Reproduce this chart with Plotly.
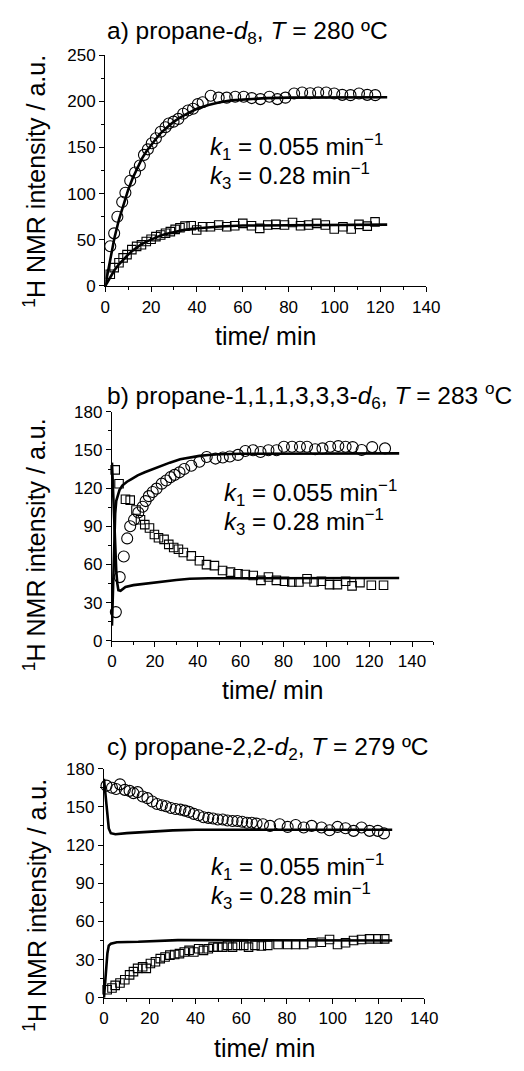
import plotly.graph_objects as go

# ---------------- data ----------------
# Panel a) propane-d8
a_circ_t = [2.2, 3.9, 5.3, 7.4, 8.8, 10.9, 13.0, 15.1, 16.9, 18.6, 20.3, 22.1, 24.2, 26.3, 27.7, 29.8,
            31.9, 34.0, 36.1, 38.3, 40.4, 42.5, 46.0, 49.5, 53.0, 56.7, 60.4, 63.9, 67.7, 71.6, 75.1,
            78.6, 82.4, 85.9, 89.4, 92.9, 96.4, 99.9, 103.4, 107.0, 110.7, 114.3, 117.8]
a_circ_v = [43, 57, 75, 91, 101, 114, 123, 130.5, 142, 148, 154.6, 160, 167, 172, 176, 178,
            181, 186.5, 190, 192, 197, 199, 206, 204, 204, 205, 205, 203.5, 202.4, 205, 202.4,
            204, 208.5, 209.6, 208.8, 209.6, 209.6, 208.5, 207, 206.7, 208.5, 207, 206.7]
a_sq_t = [2.2, 3.9, 6.0, 7.8, 9.5, 11.6, 13.7, 15.8, 17.9, 20.0, 22.1, 24.2, 26.3, 28.4, 30.5, 32.6,
          34.8, 37.5, 39.9, 42.5, 45.9, 49.5, 53.0, 56.5, 60.0, 63.8, 67.4, 70.9, 74.4, 78.2, 81.7,
          85.2, 88.7, 92.2, 96.0, 99.9, 103.7, 107.3, 110.7, 114.3, 117.7]
a_sq_v = [12.8, 19.9, 25.2, 30.5, 34, 39.4, 42.9, 44.7, 48.2, 50.7, 53.5, 55.3, 57.1, 58.9, 61.3, 63.1,
          64.9, 65.2, 60.6, 64.2, 64.2, 66, 64.2, 65.2, 67.8, 65.2, 62.4, 66, 66.7, 66, 68.8,
          65.2, 66, 67.8, 66, 61.7, 64.2, 61.7, 66.7, 64.9, 69.5]
a_fit1_t = [0, 2, 4, 6, 8, 10, 12, 14, 16, 18, 20, 22, 24, 26, 28, 30, 33, 36, 40, 45, 50, 55, 60, 70, 80, 100, 123]
a_fit1_v = [0, 28, 52, 72, 89, 104, 117, 128, 138, 146, 153, 159, 165, 170, 174, 178, 183, 187, 192, 196,
            199, 201, 202, 203.5, 204, 204.5, 204.5]
a_fit2_t = [0, 2, 4, 6, 8, 10, 12, 14, 16, 18, 20, 23, 26, 30, 34, 38, 42, 46, 50, 60, 80, 100, 123]
a_fit2_v = [0, 9, 17, 23.5, 29, 34, 38.5, 42, 45.5, 48, 50.5, 53.5, 56, 58.5, 60.5, 62, 63, 64, 64.5,
            65.5, 66, 66.5, 66.5]

# Panel b) propane-1,1,1,3,3,3-d6
b_circ_t = [1.8, 3.6, 5.5, 7.1, 8.5, 10.3, 12.3, 14.3, 15.7, 17.2, 19.0, 20.8, 23.2, 25.3, 27.3, 29.2,
            31.5, 33.7, 37.0, 40.8, 44.2, 48.3, 51.7, 55.0, 58.8, 62.2, 65.8, 69.3, 73.0, 76.8, 80.2,
            84.0, 87.7, 91.0, 94.8, 98.2, 101.8, 105.6, 109.0, 112.3, 116.5, 121.4, 127.4]
b_circ_v = [22.6, 50.1, 66.3, 80.5, 90.0, 95.1, 100.8, 105.4, 109.8, 113.7, 117.0, 119.6, 123.5, 126.0,
            128.6, 130.4, 132.4, 135.0, 137.6, 140.7, 144.5, 143.2, 144.0, 144.8, 146.1, 149.2, 149.7,
            148.4, 149.7, 149.7, 152.5, 152.5, 152.5, 152.5, 150.5, 151.2, 152.5, 153.0, 152.5, 152.2,
            149.9, 152.2, 151.2]
b_sq_t = [1.5, 3.3, 6.3, 8.5, 11.2, 13.3, 15.3, 17.5, 19.8, 21.7, 24.3, 26.5, 28.8, 31.0, 33.3, 37.0,
          40.8, 44.1, 47.8, 51.6, 55.3, 58.8, 62.2, 65.9, 69.5, 73.0, 76.7, 80.5, 83.9, 87.2, 91.0,
          94.3, 97.7, 101.5, 105.2, 109.0, 112.0, 115.7, 121.0, 126.7]
b_sq_v = [134.3, 123.4, 111.3, 110.6, 102.8, 95.1, 91.3, 88.7, 83.6, 81.0, 79.7, 75.8, 73.3, 72.0, 69.4,
          66.8, 63.0, 59.9, 59.1, 55.3, 54.0, 52.7, 52.2, 51.4, 47.5, 50.2, 47.5, 46.8, 46.3, 46.3,
          48.8, 46.3, 46.8, 44.2, 44.2, 46.8, 43.2, 45.8, 43.7, 43.7]
b_fit1_t = [0, 0.5, 1, 1.5, 2, 2.6, 3.5, 4.8, 7, 9.3, 12, 15.3, 19, 22.8, 27, 31.8, 36, 40.8, 45, 50, 60, 134]
b_fit1_v = [12, 45, 80, 100, 110, 114.4, 118.5, 122, 125, 127.3, 130, 132.4, 135, 137.6, 140, 142.7,
            144, 145.3, 146, 146.6, 147, 147.3]
b_fit2_t = [0, 0.5, 1, 1.5, 2, 2.5, 3, 4, 6.3, 10, 15.3, 20, 24.3, 30, 36.3, 45, 134]
b_fit2_v = [140, 115, 90, 70, 55, 45, 39.8, 39.3, 42.4, 43.8, 45, 46, 46.8, 47.8, 48.8, 49.2, 49.4]

# Panel c) propane-2,2-d2
c_circ_t = [1.1, 3.5, 5.3, 7.0, 9.1, 11.2, 12.9, 14.7, 16.9, 19.0, 21.1, 23.2, 25.3, 27.1, 29.2, 31.3,
            33.4, 35.4, 37.2, 39.3, 41.4, 43.5, 45.6, 47.7, 49.8, 51.9, 54.0, 56.2, 58.3, 60.4, 62.5,
            64.6, 66.7, 69.5, 72.6, 76.8, 80.3, 83.8, 87.3, 90.8, 95.1, 98.6, 102.1, 105.6, 109.1,
            112.6, 116.1, 119.7, 122.4]
c_circ_v = [166.6, 165.0, 164.0, 167.6, 163.3, 162.5, 160.7, 161.5, 158.1, 156.8, 154.2, 152.2, 151.2,
            150.4, 149.1, 148.3, 147.8, 147.0, 146.0, 144.4, 143.3, 141.8, 141.3, 140.8, 140.0, 140.0,
            139.2, 138.8, 138.8, 138.3, 137.5, 137.5, 136.8, 136.3, 135.0, 136.3, 134.2, 135.7, 133.7,
            135.0, 133.7, 131.6, 134.2, 133.2, 131.1, 133.7, 131.1, 131.1, 129.1]
c_sq_t = [1.4, 3.5, 4.9, 7.0, 9.1, 11.2, 12.9, 14.7, 16.9, 18.5, 20.3, 22.5, 24.6, 26.7, 28.8, 30.9,
          33.0, 35.1, 37.2, 39.3, 41.4, 43.5, 45.6, 47.7, 49.8, 51.9, 54.0, 56.2, 58.3, 61.1, 63.2,
          66.0, 68.8, 71.6, 76.1, 80.3, 83.8, 87.3, 90.8, 95.0, 98.6, 102.1, 105.6, 109.1, 112.6,
          116.1, 119.7, 122.7]
c_sq_v = [6.4, 7.7, 9.8, 11.6, 14.2, 18.0, 20.6, 23.1, 24.4, 23.1, 27.0, 28.3, 30.8, 32.1, 33.5, 34.0,
          34.7, 36.0, 37.3, 36.0, 38.6, 37.3, 38.6, 39.8, 39.8, 39.8, 41.2, 39.8, 41.2, 41.2, 39.8,
          41.2, 40.7, 41.2, 41.9, 41.9, 41.9, 41.9, 43.2, 43.7, 45.8, 41.9, 43.2, 45.0, 45.8, 46.3,
          46.3, 46.3]
c_fit1_t = [0, 0.7, 1.4, 2.1, 3, 5, 10, 20, 30, 40, 126]
c_fit1_v = [172, 160, 145, 133, 129.3, 128.5, 129.3, 130.5, 131.5, 132, 132]
c_fit2_t = [0, 0.5, 1, 1.5, 2.1, 3, 5.6, 15, 32.3, 126]
c_fit2_v = [0, 12, 25, 35, 41, 42.5, 43.7, 44, 45.3, 45]

titles = ["a) propane-<i>d</i><sub>8</sub>, <i>T</i> = 280 \u00baC",
          "b) propane-1,1,1,3,3,3-<i>d</i><sub>6</sub>, <i>T</i> = 283 <sup>o</sup>C",
          "c) propane-2,2-<i>d</i><sub>2</sub>, <i>T</i> = 279 \u00baC"]
k1_text = "<i>k</i><sub>1</sub> = 0.055 min<sup>\u22121</sup>"
k3_text = "<i>k</i><sub>3</sub> = 0.28 min<sup>\u22121</sup>"
x_title = "time/ min"
y_title = "<sup>1</sup>H NMR intensity / a.u."

# ---------------- figure ----------------
W, H = 524, 1071
FONT = "Liberation Sans, Arial, sans-serif"

def px(x):
    return x / W

def py(y):
    return 1 - y / H

panels = [
    dict(t=(a_circ_t, a_circ_v, a_sq_t, a_sq_v, a_fit1_t, a_fit1_v, a_fit2_t, a_fit2_v),
         xd=(104, 437), yd=(47, 282), xr=[0, 140], yr=[0, 250], ydt=50,
         title_y=24, k_x=211, k_y=(140, 170), xt_y=333, yt_y=175),
    dict(t=(b_circ_t, b_circ_v, b_sq_t, b_sq_v, b_fit1_t, b_fit1_v, b_fit2_t, b_fit2_v),
         xd=(111, 444.6), yd=(410, 643.3), xr=[0, 150], yr=[0, 180], ydt=30,
         title_y=393, k_x=225, k_y=(493, 522), xt_y=693, yt_y=545),
    dict(t=(c_circ_t, c_circ_v, c_sq_t, c_sq_v, c_fit1_t, c_fit1_v, c_fit2_t, c_fit2_v),
         xd=(102.7, 435), yd=(773.3, 1006.7), xr=[0, 140], yr=[0, 180], ydt=30,
         title_y=753, k_x=212, k_y=(873, 903), xt_y=1058, yt_y=912),
]

fig = go.Figure()
annotations = []
layout = dict(width=W, height=H, margin=dict(l=0, r=0, t=0, b=0),
              paper_bgcolor="white", plot_bgcolor="white", showlegend=False,
              font=dict(family=FONT, color="black", size=17))

for i, p in enumerate(panels, start=1):
    xa = "x" if i == 1 else f"x{i}"
    ya = "y" if i == 1 else f"y{i}"
    ct, cv, st, sv, f1t, f1v, f2t, f2v = p["t"]
    for ft, fv in ((f1t, f1v), (f2t, f2v)):
        fig.add_trace(go.Scatter(x=ft, y=fv, mode="lines", xaxis=xa, yaxis=ya,
                                 line=dict(color="black", width=2.6), cliponaxis=False))
    fig.add_trace(go.Scatter(x=ct, y=cv, mode="markers", xaxis=xa, yaxis=ya, cliponaxis=False,
                             marker=dict(symbol="circle-open", size=11, color="black",
                                         line=dict(width=1.1, color="black"))))
    fig.add_trace(go.Scatter(x=st, y=sv, mode="markers", xaxis=xa, yaxis=ya, cliponaxis=False,
                             marker=dict(symbol="square-open", size=8.5, color="black",
                                         line=dict(width=1.1, color="black"))))
    axis_common = dict(showline=True, linecolor="black", linewidth=1.3, showgrid=False,
                       zeroline=False, ticks="outside", ticklen=5, tickwidth=1.2,
                       tickcolor="black", tickfont=dict(size=17, family=FONT))
    xkey = "xaxis" if i == 1 else f"xaxis{i}"
    ykey = "yaxis" if i == 1 else f"yaxis{i}"
    layout[xkey] = dict(axis_common, domain=[px(p["xd"][0]), px(p["xd"][1])], range=p["xr"],
                        dtick=20, tick0=0, anchor=ya,
                        minor=dict(dtick=10, ticks="outside", ticklen=3, tickcolor="black",
                                   tickwidth=1.2))
    layout[ykey] = dict(axis_common, domain=[py(p["yd"][1]), py(p["yd"][0])], range=p["yr"],
                        dtick=p["ydt"], tick0=0, anchor=xa,
                        minor=dict(dtick=p["ydt"] / 2, ticks="outside", ticklen=3,
                                   tickcolor="black", tickwidth=1.2))
    # panel title
    annotations.append(dict(text=titles[i - 1], xref="paper", yref="paper", x=px(104),
                            y=py(p["title_y"]), xanchor="left", yanchor="middle",
                            showarrow=False, font=dict(size=24.5, family=FONT)))
    # rate constants
    for txt, yy in ((k1_text, p["k_y"][0]), (k3_text, p["k_y"][1])):
        annotations.append(dict(text=txt, xref="paper", yref="paper", x=px(p["k_x"]),
                                y=py(yy), xanchor="left", yanchor="middle",
                                showarrow=False, font=dict(size=24, family=FONT)))
    # axis titles
    xc = (p["xd"][0] + p["xd"][1]) / 2
    annotations.append(dict(text=x_title, xref="paper", yref="paper", x=px(xc),
                            y=py(p["xt_y"]), xanchor="center", yanchor="middle",
                            showarrow=False, font=dict(size=25, family=FONT)))
    annotations.append(dict(text=y_title, xref="paper", yref="paper", x=px(31),
                            y=py(p["yt_y"]), xanchor="center", yanchor="middle",
                            textangle=-90, showarrow=False, font=dict(size=25, family=FONT)))

layout["annotations"] = annotations
fig.update_layout(**layout)
fig.write_html("out.html", config={"displayModeBar": False},
               post_script="document.body.style.margin='0';document.body.style.overflow='hidden';")
